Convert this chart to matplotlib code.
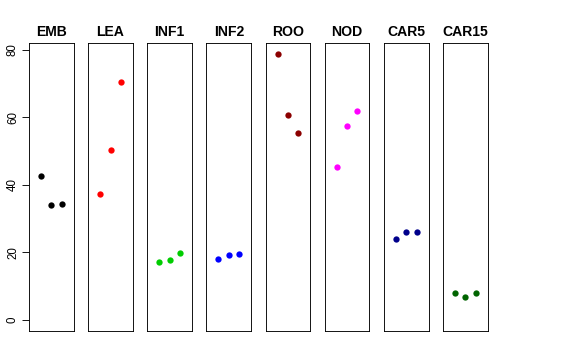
import matplotlib
matplotlib.use("Agg")
import matplotlib.pyplot as plt

plt.rcParams['font.family'] = ['Liberation Sans', 'DejaVu Sans']

groups = ["EMB", "LEA", "INF1", "INF2", "ROO", "NOD", "CAR5", "CAR15"]
colors = ["#000000", "#FF0000", "#00CD00", "#0000FF", "#8B0000", "#FF00FF", "#00008B", "#006400"]
values = {
    "EMB":   [42.8, 34.1, 34.4],
    "LEA":   [37.4, 50.3, 70.6],
    "INF1":  [17.2, 17.7, 19.8],
    "INF2":  [18.1, 19.4, 19.7],
    "ROO":   [78.9, 60.8, 55.3],
    "NOD":   [45.3, 57.4, 61.8],
    "CAR5":  [23.9, 26.1, 26.1],
    "CAR15": [8.1, 6.9, 7.9],
}
reps = [1, 2, 3]
yticks = [0, 20, 40, 60, 80]

W, H = 576, 360
fig = plt.figure(figsize=(W / 72, H / 72), dpi=72)

left0 = 29.0
pw = 44.7
step = 59.15
top, bottom = 43.0, 331.0

for i, g in enumerate(groups):
    x0 = left0 + i * step
    ax = fig.add_axes([x0 / W, 1 - bottom / H, pw / W, (bottom - top) / H])
    ax.plot(reps, values[g], 'o', color=colors[i], markersize=6.3, markeredgewidth=0)
    ax.set_xlim(-0.16, 4.16)
    ax.set_ylim(-3.26, 82.07)
    ax.set_xticks([])
    for s in ax.spines.values():
        s.set_linewidth(0.9)
        s.set_color('black')
    ax.set_title(g, fontsize=14, fontweight='bold', pad=7)
    if i == 0:
        ax.set_yticks(yticks)
        ax.set_yticklabels([str(v) for v in yticks], rotation=90, va='center', fontsize=11.5)
        ax.tick_params(axis='y', length=7, width=0.9, pad=3)
    else:
        ax.set_yticks([])

fig.savefig("out.png", dpi=72)
